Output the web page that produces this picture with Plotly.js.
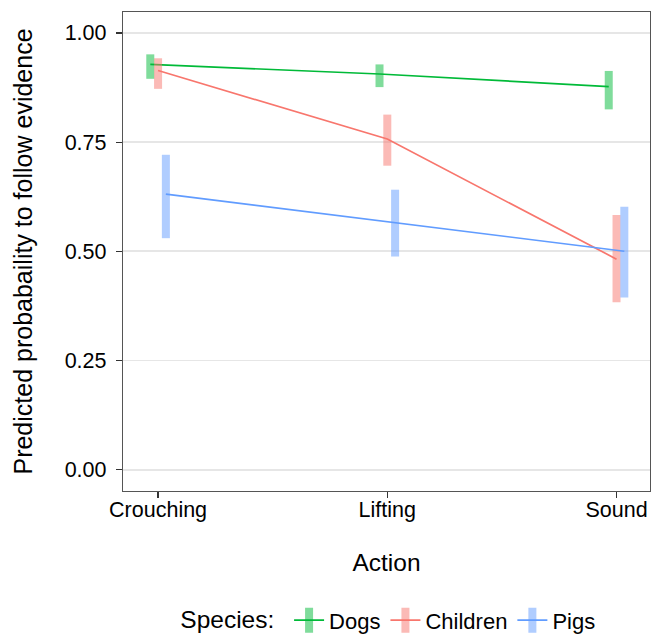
<!DOCTYPE html>
<html>
<head>
<meta charset="utf-8">
<script src="https://cdn.plot.ly/plotly-3.0.1.min.js"></script>
<style>
  html, body { margin: 0; padding: 0; background: #fff; }
  #chart { width: 651px; height: 635px; }
</style>
</head>
<body>
<div id="chart"></div>
<script>
// ---- data ----
var actions = ['Crouching', 'Lifting', 'Sound'];
var species = ['Dogs', 'Children', 'Pigs'];

var dogsMean  = [0.928, 0.906, 0.877];
var dogsLow   = [0.895, 0.876, 0.825];
var dogsHigh  = [0.951, 0.928, 0.913];

var childMean = [0.914, 0.757, 0.482];
var childLow  = [0.872, 0.696, 0.383];
var childHigh = [0.942, 0.813, 0.583];

var pigsMean  = [0.631, 0.565, 0.500];
var pigsLow   = [0.530, 0.488, 0.394];
var pigsHigh  = [0.721, 0.641, 0.602];

var yTicks = [0, 0.25, 0.5, 0.75, 1];

// ---- styles ----
var colors = ['#00BA38', '#F8766D', '#619CFF'];
var barColors = ['rgba(0,186,56,0.5)', 'rgba(248,118,109,0.5)', 'rgba(97,156,255,0.5)'];
var dodge = [-0.034, 0, 0.034];
var FONT = '"Liberation Sans", Arial, Helvetica, sans-serif';

var means = [dogsMean, childMean, pigsMean];
var lows = [dogsLow, childLow, pigsLow];
var highs = [dogsHigh, childHigh, pigsHigh];

var traces = species.map(function (sp, k) {
  var xs = actions.map(function (a, i) { return i + 1 + dodge[k]; });
  return {
    type: 'scatter',
    mode: 'lines',
    name: sp,
    x: xs,
    y: means[k],
    line: { color: colors[k], width: 1.7 },
    error_y: {
      type: 'data',
      symmetric: false,
      array: means[k].map(function (m, i) { return highs[k][i] - m; }),
      arrayminus: means[k].map(function (m, i) { return m - lows[k][i]; }),
      color: barColors[k],
      thickness: 8,
      width: 0
    },
    hoverinfo: 'x+y+name'
  };
});

var layout = {
  width: 651,
  height: 635,
  margin: { l: 123, r: 1, t: 12, b: 144, pad: 0 },
  paper_bgcolor: '#ffffff',
  plot_bgcolor: '#ffffff',
  font: { family: FONT, color: '#000000', size: 22 },
  showlegend: true,
  xaxis: {
    range: [0.847, 3.146],
    tickvals: actions.map(function (a, i) { return i + 1; }),
    ticktext: actions,
    ticks: 'outside',
    ticklen: 6,
    tickwidth: 1.2,
    tickcolor: '#333333',
    ticklabelstandoff: -7,
    tickfont: { family: FONT, size: 21.5, color: '#000000' },
    showgrid: false,
    zeroline: false,
    showline: true,
    mirror: true,
    linecolor: '#555555',
    linewidth: 1.2,
    automargin: false,
    title: { text: 'Action', font: { family: FONT, size: 24.5, color: '#000000' }, standoff: 32 }
  },
  yaxis: {
    range: [-0.049, 1.048],
    tickvals: yTicks,
    tickformat: '.2f',
    ticks: 'outside',
    ticklen: 6,
    tickwidth: 1.2,
    tickcolor: '#333333',
    ticklabelstandoff: 5,
    tickfont: { family: FONT, size: 21.5, color: '#000000' },
    showgrid: true,
    gridcolor: '#e6e6e6',
    gridwidth: 1.8,
    zeroline: false,
    showline: true,
    mirror: true,
    linecolor: '#555555',
    linewidth: 1.2,
    automargin: false,
    title: { text: 'Predicted probabaility to follow evidence', font: { family: FONT, size: 25, color: '#000000' }, standoff: 24 }
  },
  legend: {
    orientation: 'h',
    xref: 'container',
    yref: 'container',
    x: 0.598,
    xanchor: 'center',
    y: 0.023,
    yanchor: 'middle',
    bgcolor: 'rgba(0,0,0,0)',
    font: { family: FONT, size: 22, color: '#000000' },
    title: { text: 'Species: ', side: 'left', font: { family: FONT, size: 24.5, color: '#000000' } },
    itemwidth: 30,
    tracegroupgap: 0
  }
};

Plotly.newPlot('chart', traces, layout, { displayModeBar: false, staticPlot: true }).then(function (gd) {
  var ns = 'http://www.w3.org/2000/svg';
  // add the translucent vertical bar to each legend key (as in the error-bar glyph)
  var items = gd.querySelectorAll('.legend .traces');
  items.forEach(function (g, k) {
    var lines = g.querySelector('.legendlines');
    if (!lines) return;
    var p = document.createElementNS(ns, 'path');
    p.setAttribute('d', 'M20,-12.5V12.5');
    p.setAttribute('stroke', barColors[k]);
    p.setAttribute('stroke-width', '8');
    p.setAttribute('fill', 'none');
    lines.parentNode.insertBefore(p, lines);
  });
  // align the legend title baseline with the item labels
  var lt = gd.querySelector('.legend .legendtitletext');
  if (lt) {
    var prev = lt.getAttribute('transform') || '';
    lt.setAttribute('transform', prev + ' translate(0,-3)');
  }
});
</script>
</body>
</html>
